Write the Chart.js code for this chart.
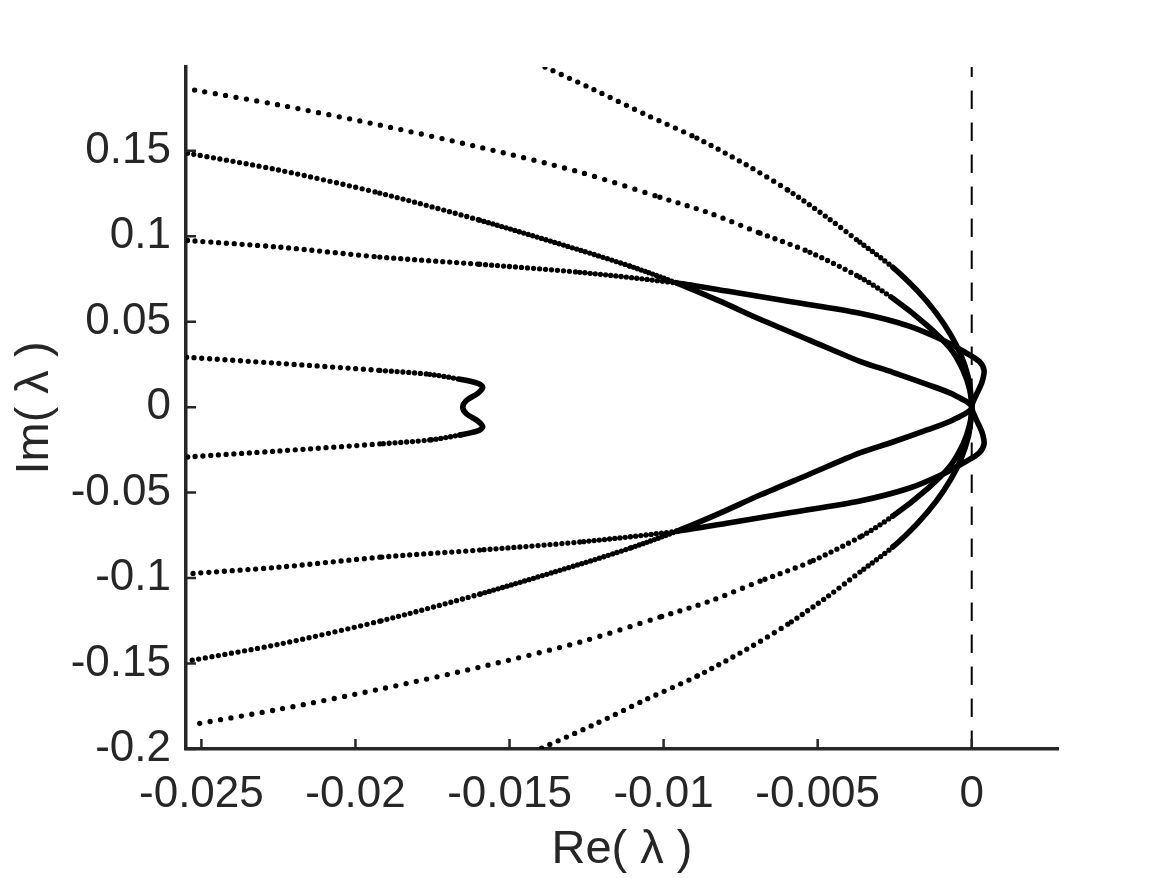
<!DOCTYPE html>
<html><head><meta charset="utf-8">
<script src="https://cdn.jsdelivr.net/npm/chart.js@4/dist/chart.umd.min.js"></script>
<style>html,body{margin:0;padding:0;background:#fff}#wrap{width:1169px;height:878px;position:relative}</style>
</head><body><div id="wrap"><canvas id="c"></canvas></div>
<script>
// ---- tick values ----
const xTicks = [-0.025, -0.02, -0.015, -0.01, -0.005, 0];
const yTicks = [-0.2, -0.15, -0.1, -0.05, 0, 0.05, 0.1, 0.15];

// ---- curve A (outer parabola) ----
const aX = [-0.01385,-0.01229,-0.01054,-0.00892,-0.00730,-0.00597,-0.00470,-0.00363,-0.00256,-0.00176,-0.00115,-0.00067,-0.00034,-0.00012,-0.00003,0,
            -0.00003,-0.00012,-0.00034,-0.00067,-0.00115,-0.00176,-0.00256,-0.00363,-0.00470,-0.00597,-0.00730,-0.00892,-0.01054,-0.01229,-0.01402];
const aY = [0.199,0.186,0.1708,0.1574,0.1416,0.127,0.1111,0.0965,0.0818,0.068,0.055,0.042,0.030,0.018,0.008,0,
            -0.008,-0.018,-0.030,-0.042,-0.055,-0.068,-0.0818,-0.0965,-0.1111,-0.127,-0.1416,-0.1574,-0.1708,-0.186,-0.2];

// ---- curve B (sparse dotted, from ±0.186) ----
const bX = [-0.02522,-0.02246,-0.01921,-0.01597,-0.01272,-0.01012,-0.00850,-0.00687,-0.00525,-0.00363,-0.00256,-0.00145,-0.00070,-0.00028,-0.00006,0,
            -0.00006,-0.00028,-0.00070,-0.00145,-0.00256,-0.00363,-0.00525,-0.00687,-0.00850,-0.01012,-0.01272,-0.01597,-0.01921,-0.02246,-0.02522];
const bY = [0.1855,0.1767,0.1650,0.1521,0.1375,0.1228,0.1135,0.1018,0.0906,0.0760,0.0637,0.0479,0.0344,0.0215,0.0098,0,
            -0.0098,-0.0215,-0.0344,-0.0479,-0.0637,-0.0760,-0.0906,-0.1018,-0.1135,-0.1228,-0.1375,-0.1521,-0.1650,-0.1767,-0.1855];

// ---- curve C (from ±0.15) ----
const cX = [-0.02545,-0.02246,-0.01921,-0.01597,-0.01272,-0.01109,-0.00957,-0.00817,-0.00687,-0.00525,-0.00363,-0.00256,-0.00145,-0.00061,0,
            -0.00061,-0.00145,-0.00256,-0.00363,-0.00525,-0.00687,-0.00817,-0.00957,-0.01109,-0.01272,-0.01597,-0.01921,-0.02246,-0.02545];
const cY = [0.1486,0.1386,0.1252,0.1094,0.0919,0.0825,0.0726,0.0620,0.0514,0.0391,0.0268,0.0204,0.0133,0.0075,0,
            -0.0075,-0.0133,-0.0204,-0.0268,-0.0391,-0.0514,-0.0620,-0.0726,-0.0825,-0.0919,-0.1094,-0.1252,-0.1386,-0.1486];

// ---- curve D (from ±0.1, bulges past 0) ----
const dX = [-0.02545,-0.02246,-0.01921,-0.01597,-0.01272,-0.00957,-0.00795,-0.00581,-0.00363,-0.00201,-0.00093,-0.00022,0.00024,0.00040,0.00033,0.00014,0,
            0.00014,0.00033,0.00040,0.00024,-0.00022,-0.00093,-0.00201,-0.00363,-0.00581,-0.00795,-0.00957,-0.01272,-0.01597,-0.01921,-0.02246,-0.02545];
const dY = [0.0975,0.0936,0.0878,0.0836,0.0789,0.0726,0.0679,0.0615,0.0549,0.0473,0.0391,0.0321,0.0268,0.0215,0.0145,0.0069,0,
            -0.0069,-0.0145,-0.0215,-0.0268,-0.0321,-0.0391,-0.0473,-0.0549,-0.0615,-0.0679,-0.0726,-0.0789,-0.0836,-0.0878,-0.0936,-0.0975];

// ---- curve E (left loop, from ±0.03) ----
const eX = [-0.02548,-0.02246,-0.01921,-0.01759,-0.01661,-0.01603,-0.01587,-0.01603,-0.01639,-0.01652,
            -0.01639,-0.01603,-0.01587,-0.01603,-0.01661,-0.01759,-0.01921,-0.02246,-0.02548];
const eY = [0.0292,0.0256,0.0215,0.0192,0.0163,0.0139,0.0116,0.0081,0.0040,0,
            -0.0040,-0.0081,-0.0116,-0.0139,-0.0163,-0.0192,-0.0215,-0.0256,-0.0292];

// ---- reference line Re = 0 ----
const refX = [0, 0];
const refY = [-0.2, 0.2];

// ---- styling (dot spacing in px by x range; 0 = solid) ----
const INK = '#262626';
const gapRules = {
  A: [[-0.0100, 9], [-0.0060, 8], [-0.0045, 6.5], [-0.0026, 5.2], [Infinity, 0]],
  B: [[-0.0120, 10.5], [-0.0080, 9.5], [-0.0060, 8], [-0.0045, 6.5], [-0.0030, 5.2], [Infinity, 0]],
  C: [[-0.0220, 6.6], [-0.0190, 6], [-0.0160, 5.4], [-0.0125, 4.6], [-0.0110, 4], [Infinity, 0]],
  D: [[-0.0200, 7.8], [-0.0170, 7], [-0.0140, 6], [-0.0115, 5.2], [-0.0096, 4.4], [Infinity, 0]],
  E: [[-0.0220, 7.7], [-0.0200, 6.8], [-0.0185, 5.8], [-0.0175, 4.8], [-0.0168, 4.2], [Infinity, 0]]
};
function gapFor(rules, x) { for (const [lim, g] of rules) { if (x <= lim) return g; } return 0; }
function zip(xs, ys) { return xs.map((x, i) => ({ x, y: ys[i] })); }
function segGap(key) {
  return ctx => {
    const d = ctx.chart.data.datasets[ctx.datasetIndex].data;
    const x = Math.min(d[ctx.p0DataIndex].x, d[ctx.p1DataIndex].x);
    return gapFor(gapRules[key], x);
  };
}
function curve(key, xs, ys) {
  const g = segGap(key);
  return {
    data: zip(xs, ys), showLine: true, pointRadius: 0, borderColor: '#000',
    borderCapStyle: 'round', borderJoinStyle: 'round', tension: 0.3,
    segment: {
      borderDash: ctx => { const v = g(ctx); return v ? [0, v] : []; },
      borderWidth: ctx => g(ctx) ? 5.3 : 5.6
    }
  };
}

const datasets = [
  { data: zip(refX, refY), showLine: true, pointRadius: 0, borderColor: '#000', borderWidth: 2, borderDash: [18.5, 13.5], borderCapStyle: 'butt' },
  curve('A', aX, aY), curve('B', bX, bY), curve('C', cX, cY), curve('D', dX, dY), curve('E', eX, eY)
];

const innerTicks = {
  id: 'innerTicks',
  afterDraw(chart) {
    const { ctx, chartArea: a, scales: { x, y } } = chart;
    ctx.save();
    ctx.strokeStyle = INK; ctx.lineWidth = 2.5;
    ctx.beginPath();
    xTicks.forEach(v => { const p = x.getPixelForValue(v); ctx.moveTo(p, a.bottom); ctx.lineTo(p, a.bottom - 10); });
    yTicks.forEach(v => { const p = y.getPixelForValue(v); ctx.moveTo(a.left, p); ctx.lineTo(a.left + 10, p); });
    ctx.stroke();
    ctx.restore();
  }
};

const FONT = 'Liberation Sans, Arial, Helvetica, sans-serif';
new Chart(document.getElementById('c'), {
  type: 'scatter',
  data: { datasets },
  options: {
    responsive: true, maintainAspectRatio: false, animation: false, devicePixelRatio: 1,
    layout: { padding: { top: 67, right: 111, left: 0, bottom: 0 } },
    plugins: { legend: { display: false }, tooltip: { enabled: false } },
    scales: {
      x: {
        type: 'linear', min: -0.0255, max: 0.0028,
        grid: { display: false, drawTicks: false },
        border: { display: true, color: INK, width: 3.5 },
        afterBuildTicks: s => { s.ticks = xTicks.map(v => ({ value: v })); },
        afterFit: s => { s.height = 129; },
        ticks: { color: INK, font: { family: FONT, size: 44 }, padding: 19, maxRotation: 0, autoSkip: false, callback: v => String(v) },
        title: { display: true, text: 'Re( λ )', color: INK, font: { family: FONT, size: 47 }, padding: { top: 0, bottom: 0 } }
      },
      y: {
        type: 'linear', min: -0.2, max: 0.199,
        grid: { display: false, drawTicks: false },
        border: { display: true, color: INK, width: 3.5 },
        afterBuildTicks: s => { s.ticks = yTicks.map(v => ({ value: v })); },
        afterFit: s => { s.width = 186; },
        ticks: { color: INK, font: { family: FONT, size: 44 }, padding: 15, autoSkip: false, callback: v => String(v) },
        title: { display: true, text: 'Im( λ )', color: INK, font: { family: FONT, size: 47 }, padding: { top: 7, bottom: 0 } }
      }
    }
  },
  plugins: [innerTicks]
});
</script>
</body></html>
